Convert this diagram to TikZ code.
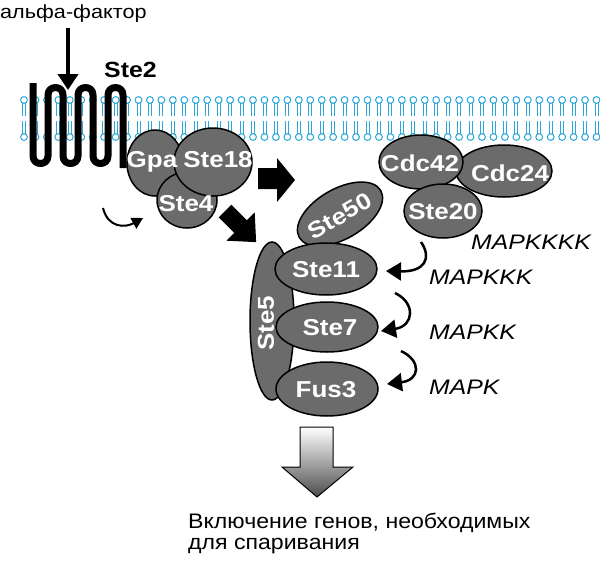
\documentclass[tikz,border=0pt]{standalone}
\usepackage{fontspec}
\setmainfont{Liberation Sans}
\usetikzlibrary{arrows.meta,shapes.geometric}
\definecolor{lip}{HTML}{2AA7D9}
\definecolor{prot}{HTML}{6B6B6B}
\begin{document}
\begin{tikzpicture}[x=1pt,y=-1pt,
  pf/.style={text=white,inner sep=0pt,font=\bfseries\fontsize{23}{24}\selectfont\addfontfeatures{FakeStretch=1.13}},
  prot/.style={ellipse,draw=black,line width=1.5pt,fill=prot,inner sep=0pt},
  lab/.style={font=\itshape\fontsize{21}{21}\selectfont\addfontfeatures{FakeStretch=1.18},anchor=west,inner sep=0pt},
  txt/.style={font=\fontsize{21}{24}\selectfont\addfontfeatures{FakeStretch=1.1},anchor=west,inner sep=0pt},
  carr/.style={line width=2.5pt,-{Triangle[length=15pt,width=18pt]}},
  blk/.style={fill=black}]
\useasboundingbox (0,0) rectangle (600,560);
% membrane
\foreach \i in {0,...,50}{
  \pgfmathsetmacro\xx{24+11.45*\i}
  \draw[lip,line width=0.9pt] (\xx-1.5,100) -- (\xx-1.5,116) (\xx+1.5,100) -- (\xx+1.5,116)
    (\xx-1.5,137) -- (\xx-1.5,121) (\xx+1.5,137) -- (\xx+1.5,121);
  \draw[lip,line width=1pt,fill=white] (\xx,100) circle (3.4) (\xx,137) circle (3.4);
}
% Ste2 serpentine
\draw[line width=7pt,line join=round] (33,83) -- (33,156) .. controls (33,166) and (48,166) .. (48,156)
  -- (48,95) .. controls (48,85) and (63,85) .. (63,95)
  -- (63,156) .. controls (63,166) and (78,166) .. (78,156)
  -- (78,95) .. controls (78,85) and (93,85) .. (93,95)
  -- (93,156) .. controls (93,166) and (108,166) .. (108,156)
  -- (108,95) .. controls (108,85) and (123,85) .. (123,95)
  -- (123,168);
\node[font=\bfseries\fontsize{22}{22}\selectfont\addfontfeatures{FakeStretch=1.13},anchor=west,inner sep=0pt] (ste2) at (104,70) {Ste2};
\node[font=\fontsize{19}{20}\selectfont\addfontfeatures{FakeStretch=1.14},anchor=west,inner sep=0pt] (alpha) at (0,14) {альфа-фактор};
\coordinate (a1) at (68,28);
\coordinate (a2) at (68,90);
\draw[line width=4.5pt,-{Triangle[length=16pt,width=20pt]}] (a1) -- (a2);
% G protein
\node[prot,minimum width=56pt,minimum height=66pt] (gpa) at (155,163) {};
\node[prot,minimum width=60pt,minimum height=56pt] (ste4) at (187,200) {};
\node[prot,minimum width=78pt,minimum height=68pt] (ste18) at (213,162) {};
\node[pf] (lgpa) at (152,162) {Gpa};
\node[pf] (lste18) at (218,160) {Ste18};
\node[pf] (lste4) at (186,204) {Ste4};
% Cdc
\node[prot,minimum width=96pt,minimum height=52pt] (cdc24) at (504,171) {};
\node[prot,minimum width=84pt,minimum height=54pt] (cdc42) at (421,162) {};
\node[pf] (lcdc42) at (420,163) {Cdc42};
\node[pf] (lcdc24) at (510,173) {Cdc24};
\node[prot,minimum width=78pt,minimum height=54pt] (ste20) at (443,211) {};
\node[pf] (lste20) at (443,212) {Ste20};
% scaffold
\node[prot,minimum width=94pt,minimum height=50pt,rotate=30] (ste50) at (340,214) {};
\node[pf,rotate=30] (lste50) at (340,216) {Ste50};
\node[prot,minimum width=44pt,minimum height=158pt] (ste5) at (272,321) {};
\node[pf,rotate=90] (lste5) at (266,323) {Ste5};
\node[prot,minimum width=102pt,minimum height=52pt] (ste11) at (326,269) {};
\node[pf] (lste11) at (326,270) {Ste11};
\node[prot,minimum width=102pt,minimum height=50pt] (ste7) at (327,327) {};
\node[pf] (lste7) at (330,328) {Ste7};
\node[prot,minimum width=102pt,minimum height=54pt] (fus3) at (327,389) {};
\node[pf] (lfus3) at (326,390) {Fus3};
% block arrows
\fill[blk] (258,168) -- (277,168) -- (277,158) -- (295,180) -- (277,202) -- (277,189) -- (258,189) -- cycle;
\fill[blk,shift={(225,211)},rotate=-45] (0,-9) -- (22,-9) -- (22,-20) -- (44,0) -- (22,20) -- (22,9) -- (0,9) -- cycle;
% curved arrows
\coordinate (c1s) at (421,242);
\coordinate (c1e) at (386,271);
\draw[carr] (c1s) .. controls (432,258) and (425,272) .. (c1e);
\coordinate (c2s) at (395,293);
\coordinate (c2e) at (381,331);
\draw[carr] (c2s) .. controls (416,303) and (414,326) .. (c2e);
\coordinate (c3s) at (401,351);
\coordinate (c3e) at (387,384);
\draw[carr] (c3s) .. controls (422,361) and (420,380) .. (c3e);
\coordinate (c4s) at (103,208);
\coordinate (c4e) at (143,218);
\draw[line width=2pt,-{Triangle[length=11pt,width=12pt]}] (c4s) .. controls (108,228) and (125,228) .. (c4e);
% labels
\node[lab] (m4) at (471,242) {MAPKKKK};
\node[lab] (m3) at (429,277) {MAPKKK};
\node[lab] (m2) at (429,332) {MAPKK};
\node[lab] (m1) at (429,387) {MAPK};
% output arrow
\shade[top color=white,bottom color=black!70,draw=black,line width=1pt]
  (300,427) -- (333,427) -- (333,467) -- (353,467) -- (317,497) -- (282,467) -- (300,467) -- cycle;
\node[txt] (t1) at (188,523) {Включение генов, необходимых};
\node[txt] (t2) at (188,546) {для спаривания};
\end{tikzpicture}
\end{document}
